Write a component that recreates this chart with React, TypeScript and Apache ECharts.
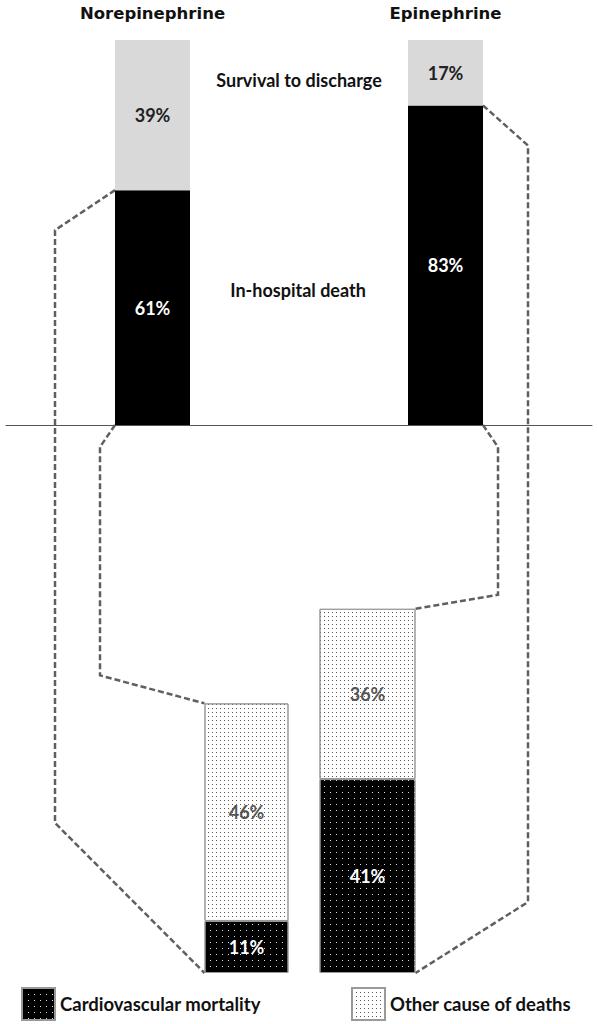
import * as echarts from 'echarts';
import React, { useEffect, useRef } from 'react';

const drugs = ['Norepinephrine', 'Epinephrine'];
const inHospitalDeath = [61, 83];
const survivalToDischarge = [39, 17];
const cardiovascularMortality = [11, 41];
const otherCauseOfDeaths = [46, 36];

const LATO = 'Lato, "Open Sans", sans-serif';
const lowerBarWidths = [84, 96];
// x of the vertical runs of the dashed connectors: [outer, inner] per drug
const elbowX = [
  [55, 100],
  [528, 498],
];

const pctLabel = (color: string) => ({
  show: true,
  position: 'inside',
  formatter: '{c}%',
  color,
  fontFamily: LATO,
  fontWeight: 'bold',
  fontSize: 18,
});

const otherDecal = {
  symbol: 'rect',
  symbolSize: 1,
  color: '#555',
  backgroundColor: '#fff',
  dashArrayX: [1, 3],
  dashArrayY: [1, 3],
};
const cardioDecal = {
  symbol: 'rect',
  symbolSize: 1,
  color: '#ddd',
  backgroundColor: '#000',
  dashArrayX: [1, 4.5],
  dashArrayY: [1, 4.5],
};

const only = (arr: number[], i: number) => arr.map((v, j) => (j === i ? v : '-'));

const legendBase = {
  top: 987,
  padding: 0,
  icon: 'rect',
  itemWidth: 33,
  itemHeight: 32,
  selectedMode: false,
  textStyle: { fontFamily: LATO, fontWeight: 'bold', fontSize: 18.5, color: '#111' },
};

const App: React.FC = () => {
  const ref = useRef<HTMLDivElement>(null);

  useEffect(() => {
    const chart = echarts.init(ref.current, null, { renderer: 'svg' });

    const lowerSeries: any[] = [];
    drugs.forEach((_, i) => {
      lowerSeries.push(
        {
          name: 'Cardiovascular mortality',
          type: 'bar',
          xAxisIndex: 2 + i,
          yAxisIndex: 1,
          stack: 'lower' + i,
          barWidth: lowerBarWidths[i],
          data: only(cardiovascularMortality, i),
          itemStyle: { color: '#000', borderColor: '#999', borderWidth: 1, decal: cardioDecal },
          label: pctLabel('#fff'),
        },
        {
          name: 'Other cause of deaths',
          type: 'bar',
          xAxisIndex: 2 + i,
          yAxisIndex: 1,
          stack: 'lower' + i,
          barWidth: lowerBarWidths[i],
          data: only(otherCauseOfDeaths, i),
          itemStyle: { color: '#fff', borderColor: '#999', borderWidth: 1, decal: otherDecal },
          label: pctLabel('#555'),
        }
      );
    });

    chart.setOption({
      animation: false,
      grid: [
        { left: 6, right: 5, top: 40, bottom: 599, outerBoundsMode: 'none' },
        { left: 186, width: 242, top: 500, bottom: 51, outerBoundsMode: 'none' },
      ],
      xAxis: [
        {
          type: 'category',
          gridIndex: 0,
          position: 'top',
          data: drugs,
          axisLine: { show: false },
          axisTick: { show: false },
          axisLabel: {
            margin: 18,
            fontFamily: '"DejaVu Sans", Verdana, sans-serif',
            fontWeight: 'bold',
            fontSize: 16.5,
            color: '#111',
          },
        },
        {
          type: 'category',
          gridIndex: 0,
          position: 'bottom',
          data: drugs,
          axisLine: { show: true, lineStyle: { color: '#555', width: 1 } },
          axisTick: { show: false },
          axisLabel: { show: false },
        },
        { type: 'category', gridIndex: 1, data: drugs, show: false },
        { type: 'category', gridIndex: 1, data: drugs, show: false },
      ],
      yAxis: [
        { type: 'value', gridIndex: 0, min: 0, max: 100, show: false },
        { type: 'value', gridIndex: 1, min: 0, max: 100, show: false },
      ],
      legend: [
        { ...legendBase, data: ['Cardiovascular mortality'], left: 21 },
        { ...legendBase, data: ['Other cause of deaths'], left: 351 },
      ],
      series: [
        {
          name: 'In-hospital death',
          type: 'bar',
          xAxisIndex: 0,
          yAxisIndex: 0,
          stack: 'top',
          barWidth: 75,
          data: inHospitalDeath,
          itemStyle: { color: '#000' },
          label: pctLabel('#fff'),
        },
        {
          name: 'Survival to discharge',
          type: 'bar',
          xAxisIndex: 0,
          yAxisIndex: 0,
          stack: 'top',
          barWidth: 75,
          data: survivalToDischarge,
          itemStyle: { color: '#d9d9d9' },
          label: pctLabel('#222'),
        },
        ...lowerSeries,
      ],
    });

    // dashed connectors from the death segment of each top bar to its breakdown bar
    const graphic: any[] = [
      {
        type: 'text',
        x: 299,
        y: 80,
        style: { text: 'Survival to discharge', font: `bold 18px ${LATO}`, fill: '#111', align: 'center', verticalAlign: 'middle' },
      },
      {
        type: 'text',
        x: 298,
        y: 290,
        style: { text: 'In-hospital death', font: `bold 18px ${LATO}`, fill: '#111', align: 'center', verticalAlign: 'middle' },
      },
    ];
    drugs.forEach((_, i) => {
      const side = i === 0 ? -1 : 1;
      const deathTop = chart.convertToPixel({ xAxisIndex: 0, yAxisIndex: 0 }, [i, inHospitalDeath[i]]);
      const topBase = chart.convertToPixel({ xAxisIndex: 0, yAxisIndex: 0 }, [i, 0]);
      const lowerTop = chart.convertToPixel({ xAxisIndex: 2 + i, yAxisIndex: 1 }, [
        i,
        cardiovascularMortality[i] + otherCauseOfDeaths[i],
      ]);
      const lowerBase = chart.convertToPixel({ xAxisIndex: 2 + i, yAxisIndex: 1 }, [i, 0]);
      const tx = deathTop[0] + (side * 75) / 2;
      const lx = lowerTop[0] + (side * lowerBarWidths[i]) / 2;
      const [outerX, innerX] = elbowX[i];
      const outerDrop = i === 0 ? 150 : 71;
      const innerRise = i === 0 ? 28 : 14;
      const lineStyle = { stroke: '#5f5f5f', lineWidth: 2.5, lineDash: [6, 3], fill: null };
      graphic.push(
        {
          type: 'polyline',
          shape: {
            points: [
              [tx, deathTop[1]],
              [outerX, deathTop[1] + 40],
              [outerX, lowerBase[1] - outerDrop],
              [lx, lowerBase[1]],
            ],
          },
          style: lineStyle,
        },
        {
          type: 'polyline',
          shape: {
            points: [
              [tx, topBase[1]],
              [innerX, topBase[1] + 22],
              [innerX, lowerTop[1] - innerRise],
              [lx, lowerTop[1]],
            ],
          },
          style: lineStyle,
        }
      );
    });
    chart.setOption({ graphic });

    return () => {
      chart.dispose();
    };
  }, []);

  return <div ref={ref} style={{ position: 'absolute', left: 0, top: 0, width: 597, height: 1024 }}></div>;
};

export default App;
